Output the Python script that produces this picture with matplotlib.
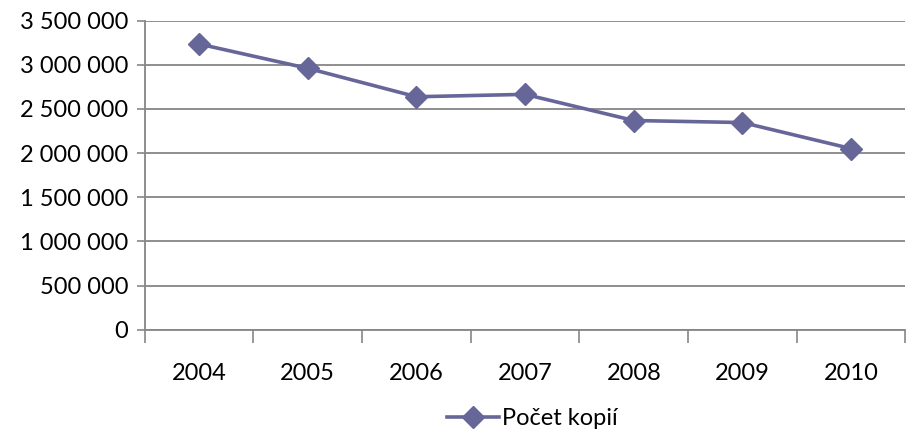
import matplotlib
matplotlib.use("Agg")
import matplotlib.pyplot as plt
from matplotlib.ticker import FuncFormatter, FixedLocator

plt.rcParams['font.family'] = ['Lato', 'DejaVu Sans']

roky = ['2004', '2005', '2006', '2007', '2008', '2009', '2010']
kopie = [3235000, 2960000, 2638000, 2665000, 2369000, 2346000, 2051000]

barva = '#666699'
seda = '#868686'

fig = plt.figure(figsize=(9.1, 4.38), dpi=100)
ax = fig.add_axes([0.159, 0.247, 0.836, 0.706])

x = list(range(len(roky)))
ax.plot(x, kopie, color=barva, lw=2.6, marker='D', markersize=11,
        label='Počet kopií', zorder=3)

ax.set_xlim(-0.5, len(roky) - 0.5)
ax.set_ylim(0, 3500000)
ax.set_yticks(range(0, 3500001, 500000))
ax.yaxis.set_major_formatter(FuncFormatter(lambda v, p: f"{int(v):,}".replace(",", " ")))
ax.grid(axis='y', color=seda, lw=1.3)
ax.set_axisbelow(True)

ax.set_xticks(x)
ax.set_xticklabels(roky)
ax.tick_params(axis='x', which='major', length=0, pad=24, labelsize=17)
ax.xaxis.set_minor_locator(FixedLocator([i - 0.5 for i in range(len(roky) + 1)]))
ax.tick_params(axis='x', which='minor', length=9, color=seda, width=1.2, direction='out')
ax.tick_params(axis='y', length=6, color=seda, width=1.2, labelsize=17, pad=6)

for s in ['top', 'right']:
    ax.spines[s].set_visible(False)
for s in ['left', 'bottom']:
    ax.spines[s].set_color(seda)
    ax.spines[s].set_linewidth(1.3)

fig.legend(loc='center', bbox_to_anchor=(0.585, 0.045), frameon=False,
           fontsize=17, handlelength=2.2, handletextpad=0.1)

fig.savefig('out.png', dpi=100)
